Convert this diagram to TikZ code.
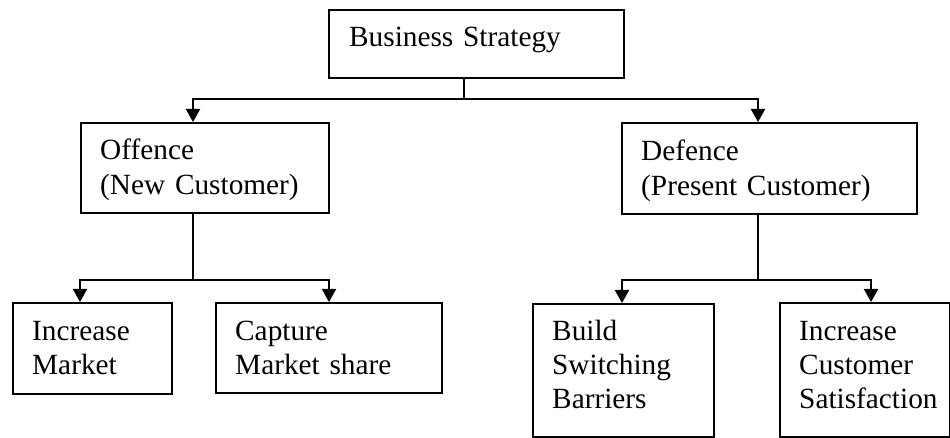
\documentclass[tikz,border=0pt]{standalone}
\usepackage{fontspec}
\setmainfont{Liberation Serif}
\usetikzlibrary{arrows.meta,calc}
\begin{document}
\begin{tikzpicture}[x=1pt,y=1pt,
  box/.style={draw=black,line width=1.8pt,fill=white,anchor=north west,inner sep=0pt},
  lbl/.style={anchor=base west,inner sep=0pt,align=left,text width=#1,
    font=\fontsize{29.3}{34.2}\selectfont},
  lbl/.default=300pt,
  conn/.style={line width=2pt},
  arr/.style={line width=2pt,-{Triangle[width=14pt,length=13pt]}}]
\useasboundingbox (0,0) rectangle (950,-438);
% boxes
\node[box,minimum width=295pt,minimum height=68pt] (bs) at (328,-9) {};
\node[box,minimum width=248pt,minimum height=90pt] (off) at (80,-122) {};
\node[box,minimum width=295pt,minimum height=91pt] (def) at (621,-122) {};
\node[box,minimum width=159pt,minimum height=91pt] (im) at (12,-302) {};
\node[box,minimum width=226pt,minimum height=90pt] (cms) at (215,-302) {};
\node[box,minimum width=181pt,minimum height=133pt] (bsb) at (532,-303) {};
\node[box,minimum width=170pt,minimum height=134pt] (ics) at (779,-302) {};
% texts
\node[lbl] (bs-t) at ($(bs.north west)+(21,-38)$) {Business Strategy};
\node[lbl] (off-t) at ($(off.north west)+(20,-38)$) {Offence\\(New Customer)};
\node[lbl] (def-t) at ($(def.north west)+(20,-39)$) {Defence\\(Present Customer)};
\node[lbl] (im-t) at ($(im.north west)+(20,-38)$) {Increase\\Market};
\node[lbl] (cms-t) at ($(cms.north west)+(20,-38)$) {Capture\\Market share};
\node[lbl] (bsb-t) at ($(bsb.north west)+(20,-37)$) {Build\\Switching\\Barriers};
\node[lbl] (ics-t) at ($(ics.north west)+(20,-38)$) {Increase\\Customer\\Satisfaction};
% junctions
\coordinate (j1) at ([xshift=136pt]bs.south west |- 0,-99);
\coordinate (j2) at ([xshift=113pt]off.south west |- 0,-280);
\coordinate (j3) at ([xshift=137pt]def.south west |- 0,-280);
% connectors
\draw[conn] ([xshift=136pt]bs.south west) -- (j1);
\draw[arr] (j1) -| ([xshift=113pt]off.north west);
\draw[arr] (j1) -| ([xshift=137pt]def.north west);
\draw[conn] ([xshift=113pt]off.south west) -- (j2);
\draw[arr] (j2) -| ([xshift=68pt]im.north west);
\draw[arr] (j2) -| ([xshift=114pt]cms.north west);
\draw[conn] ([xshift=137pt]def.south west) -- (j3);
\draw[arr] (j3) -| ([xshift=90pt]bsb.north west);
\draw[arr] (j3) -| ([xshift=92pt]ics.north west);
\end{tikzpicture}
\end{document}
